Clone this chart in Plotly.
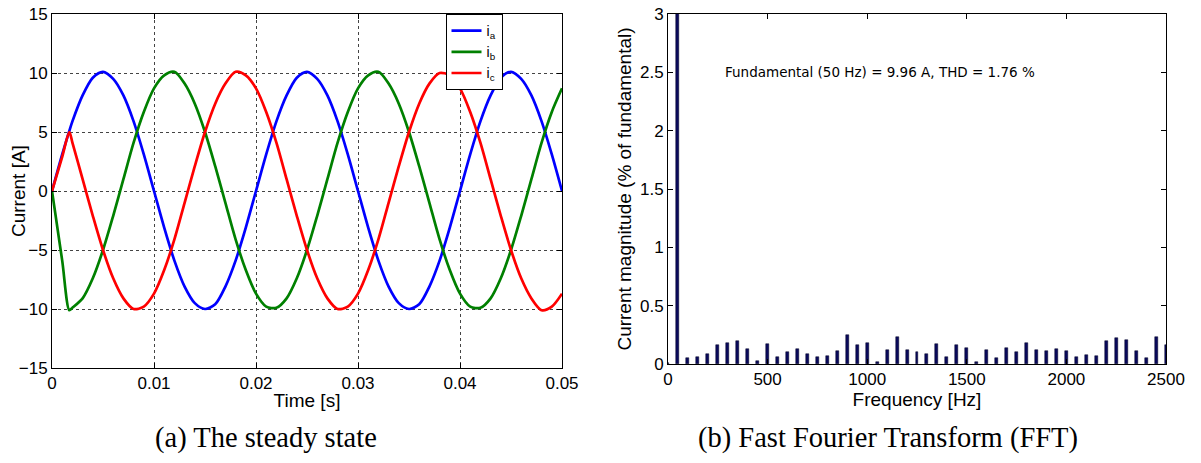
import plotly.graph_objects as go

# ---------------- data ----------------
time_ms = [0, 1, 1.7, 2, 3, 4, 5, 6, 7, 8, 9, 10,
           11, 12, 13, 14, 15, 16, 17, 18, 19, 20,
           21, 22, 23, 24, 25, 26, 27, 28, 29, 30,
           31, 32, 33, 34, 35, 36, 37, 38, 39, 40,
           41, 42, 43, 44, 45, 46, 47, 48, 49, 50]

i_a = [0.0, 3.1, 5.1, 5.9, 8.1, 9.6, 10.1, 9.5, 8.1, 5.9, 3.1, 0.0,
       -3.1, -5.9, -8.1, -9.5, -10.0, -9.6, -8.1, -5.9, -3.1, 0.0,
       3.1, 5.9, 8.1, 9.6, 10.1, 9.5, 8.1, 5.9, 3.1, 0.0,
       -3.1, -5.9, -8.1, -9.5, -10.0, -9.6, -8.1, -5.9, -3.1, 0.0,
       3.1, 5.9, 8.1, 9.6, 10.1, 9.5, 8.1, 5.9, 3.1, 0.0]

i_b = [0.0, -5.9, -10.1, -9.9, -9.1, -7.4, -5.0, -2.1, 1.0, 4.1, 6.7, 8.7,
       9.8, 10.1, 9.1, 7.4, 5.0, 2.1, -1.0, -4.1, -6.7, -8.7,
       -9.8, -9.9, -9.1, -7.4, -5.0, -2.1, 1.0, 4.1, 6.7, 8.7,
       9.8, 10.1, 9.1, 7.4, 5.0, 2.1, -1.0, -4.1, -6.7, -8.7,
       -9.8, -9.9, -9.1, -7.4, -5.0, -2.1, 1.0, 4.1, 6.7, 8.7]

i_c = [0.0, 2.9, 5.0, 4.1, 1.0, -2.1, -5.0, -7.4, -9.1, -10.0, -9.8, -8.7,
       -6.7, -4.1, -1.0, 2.1, 5.0, 7.4, 9.1, 10.1, 9.8, 8.7,
       6.7, 4.1, 1.0, -2.1, -5.0, -7.4, -9.1, -10.0, -9.8, -8.7,
       -6.7, -4.1, -1.0, 2.1, 5.0, 7.4, 9.1, 10.0, 9.8, 8.7,
       6.7, 4.1, 1.0, -2.1, -5.0, -7.4, -9.1, -10.1, -9.8, -8.7]

freq_hz = [0, 50, 100, 150, 200, 250, 300, 350, 400, 450, 500,
           550, 600, 650, 700, 750, 800, 850, 900, 950, 1000,
           1050, 1100, 1150, 1200, 1250, 1300, 1350, 1400, 1450, 1500,
           1550, 1600, 1650, 1700, 1750, 1800, 1850, 1900, 1950, 2000,
           2050, 2100, 2150, 2200, 2250, 2300, 2350, 2400, 2450, 2500]

mag_pct = [0.01, 100, 0.05, 0.06, 0.09, 0.16, 0.18, 0.20, 0.13, 0.03, 0.17,
           0.06, 0.10, 0.13, 0.09, 0.06, 0.07, 0.11, 0.25, 0.16, 0.18,
           0.02, 0.12, 0.23, 0.12, 0.10, 0.09, 0.17, 0.06, 0.16, 0.14,
           0.02, 0.12, 0.05, 0.14, 0.10, 0.18, 0.12, 0.11, 0.13, 0.11,
           0.06, 0.08, 0.07, 0.20, 0.22, 0.21, 0.11, 0.05, 0.23, 0.16]

time_s = [t / 1000.0 for t in time_ms]

# ---------------- layout helpers ----------------
# The page body margin is removed (post_script below), so the figure fills the window.
W, H = 1201, 463

def px(x):
    return x / W

def py(y):
    return 1 - y / H

SANS = "Liberation Sans, Arial, sans-serif"
TICK_FONT = dict(family=SANS, size=17, color="black")
TITLE_FONT = dict(family=SANS, size=19, color="black")
CAPTION_FONT = dict(family="Liberation Serif, Times New Roman, serif", size=28.5, color="black")

fig = go.Figure()

line_kw = dict(shape="spline", smoothing=0.8, width=2.7)
fig.add_trace(go.Scatter(x=time_s, y=i_a, mode="lines", name="i<sub>a</sub>",
                         line=dict(color="#0000ff", **line_kw), xaxis="x", yaxis="y"))
fig.add_trace(go.Scatter(x=time_s, y=i_b, mode="lines", name="i<sub>b</sub>",
                         line=dict(color="#008000", **line_kw), xaxis="x", yaxis="y"))
fig.add_trace(go.Scatter(x=time_s, y=i_c, mode="lines", name="i<sub>c</sub>",
                         line=dict(color="#ff0000", **line_kw), xaxis="x", yaxis="y"))

fig.add_trace(go.Bar(x=freq_hz, y=mag_pct, width=15, showlegend=False,
                     marker=dict(color="#0a0a5c", line=dict(color="#000022", width=0.5)),
                     xaxis="x2", yaxis="y2"))

axis_common = dict(showline=True, linecolor="black", linewidth=1, mirror="ticks",
                   ticks="inside", ticklen=5, tickcolor="black", tickfont=TICK_FONT,
                   zeroline=False, automargin=False, ticklabeloverflow="allow")

fig.update_layout(
    width=W, height=H,
    margin=dict(l=0, r=0, t=0, b=0),
    paper_bgcolor="white", plot_bgcolor="white",
    bargap=0,
    xaxis=dict(domain=[px(52), px(562)], range=[0, 0.05], dtick=0.01,
               showgrid=True, gridcolor="#444444", griddash="dot", gridwidth=1,
               title=dict(text="Time [s]", font=TITLE_FONT, standoff=1),
               **axis_common),
    yaxis=dict(domain=[py(368), py(14)], range=[-15, 15], dtick=5,
               showgrid=True, gridcolor="#444444", griddash="dot", gridwidth=1,
               **axis_common),
    xaxis2=dict(domain=[px(668), px(1166)], range=[0, 2500], dtick=500,
                showgrid=False, anchor="y2",
                title=dict(text="Frequency [Hz]", font=TITLE_FONT, standoff=1),
                **axis_common),
    yaxis2=dict(domain=[py(364), py(14)], range=[0, 3], dtick=0.5,
                showgrid=False, anchor="x2",
                title=dict(text="Current magnitude (% of fundamental)", font=TITLE_FONT, standoff=3),
                **axis_common),
    legend=dict(x=px(474), y=py(14), xanchor="center", yanchor="top",
                bgcolor="white", bordercolor="black", borderwidth=1,
                font=dict(family=SANS, size=14, color="black"),
                itemwidth=30, tracegroupgap=0),
    annotations=[
        dict(text="Current [A]", textangle=-90, x=px(18), y=py(191),
             xref="paper", yref="paper", showarrow=False, font=TITLE_FONT,
             xanchor="center", yanchor="middle"),
        dict(text="Fundamental (50 Hz) = 9.96 A, THD = 1.76 %", x=276, y=2.5,
             xref="x2", yref="y2", showarrow=False, xanchor="left", yanchor="middle",
             font=dict(family="DejaVu Sans, Verdana, sans-serif", size=13.5, color="black")),
        dict(text="(a) The steady state", x=px(266), y=py(438), xref="paper", yref="paper",
             showarrow=False, xanchor="center", yanchor="middle", font=CAPTION_FONT),
        dict(text="(b) Fast Fourier Transform (FFT)", x=px(888), y=py(438), xref="paper", yref="paper",
             showarrow=False, xanchor="center", yanchor="middle", font=CAPTION_FONT),
    ],
)

fig.write_html("out.html",
               config={"displayModeBar": False},
               post_script="document.body.style.margin='0';document.body.style.overflow='hidden';")
